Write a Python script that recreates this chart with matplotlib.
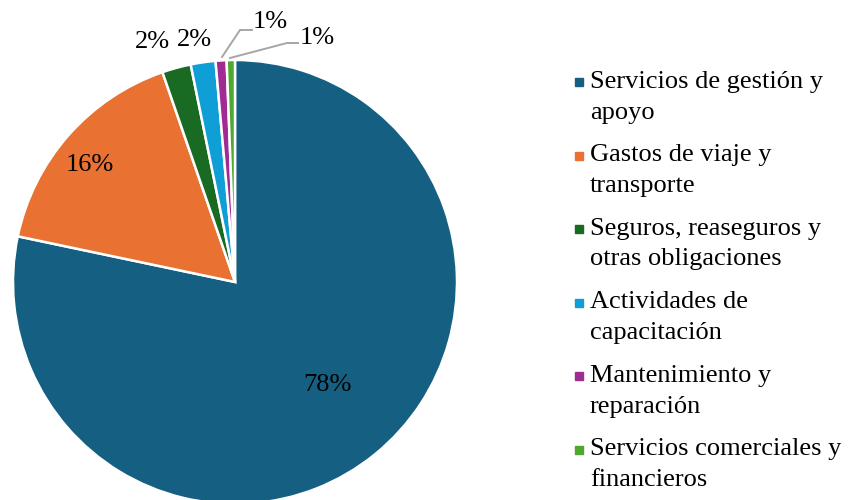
import matplotlib.pyplot as plt
from matplotlib.lines import Line2D

categories = [
    "Servicios de gestión y\napoyo",
    "Gastos de viaje y\ntransporte",
    "Seguros, reaseguros y\notras obligaciones",
    "Actividades de\ncapacitación",
    "Mantenimiento y\nreparación",
    "Servicios comerciales y\nfinancieros",
]
shares = [78.3, 16.4, 2.1, 1.8, 0.8, 0.6]
colors = ["#156082", "#E97132", "#196B24", "#0F9ED5", "#A02B93", "#4EA72E"]

plt.rcParams["font.family"] = ["Liberation Serif", "DejaVu Serif"]

W, H = 848, 500
fig = plt.figure(figsize=(W / 100, H / 100), dpi=100)

# pie axes: centre (235, 282) px, radius 222 px
cx, cy, r = 235, 282, 222
ax = fig.add_axes([(cx - r) / W, (H - cy - r) / H, 2 * r / W, 2 * r / H])
ax.pie(shares, colors=colors, startangle=90, counterclock=False, radius=1,
       wedgeprops=dict(edgecolor="white", linewidth=1.8))
ax.set_xlim(-1, 1)
ax.set_ylim(-1, 1)
ax.set_aspect("equal")
ax.axis("off")


def px(x, y):
    return ((x - cx) / r, (cy - y) / r)


# data labels (positions in pixels of the reference layout)
label_pos = [(327, 385), (90, 165), (152, 42), (194, 40), (270, 22), (317, 38)]
for v, (lx, ly) in zip(shares, label_pos):
    ax.text(*px(lx, ly), f"{round(v):.0f}%", ha="center", va="center",
            fontsize=19, clip_on=False)

# leader lines for the two smallest slices
leaders = [[(222, 57), (240, 30), (252, 30)], [(230, 58), (287, 43), (298, 43)]]
for pts in leaders:
    xy = [px(a, b) for a, b in pts]
    ax.plot([p[0] for p in xy], [p[1] for p in xy], color="#A6A6A6",
            lw=1.4, clip_on=False)

# legend drawn manually so markers align with the first text line
y0, step = 82, 73.5
for i, (lab, c) in enumerate(zip(categories, colors)):
    y = y0 + i * step
    fig.add_artist(Line2D([579 / W], [1 - y / H], marker="s", markersize=6,
                          color=c, linestyle="none"))
    fig.text(590 / W, 1 - (y - 11) / H, lab, ha="left", va="top",
             fontsize=19, linespacing=1.5)

fig.savefig("out.png", dpi=100)
